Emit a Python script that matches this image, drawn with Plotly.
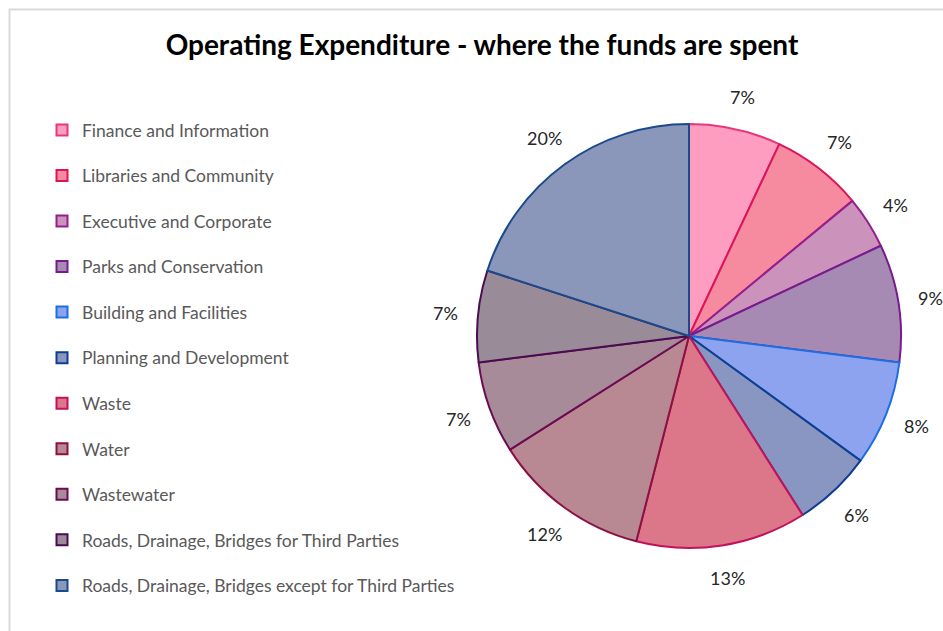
import math
import plotly.graph_objects as go

# Operating expenditure by activity (% of total)
categories = [
    "Finance and Information",
    "Libraries and Community",
    "Executive and Corporate",
    "Parks and Conservation",
    "Building and Facilities",
    "Planning and Development",
    "Waste",
    "Water",
    "Wastewater",
    "Roads, Drainage, Bridges for Third Parties",
    "Roads, Drainage, Bridges except for Third Parties",
]
shares = [7, 7, 4, 9, 8, 6, 13, 12, 7, 7, 20]

fill_colors = [
    "#FE9DC0", "#F68BA0", "#CB92BC", "#A78AB4", "#8EA3F0", "#8A96C2",
    "#DB7789", "#B98993", "#A88B99", "#9A8B99", "#8B97BA",
]
edge_colors = [
    "#E8367C", "#DE1459", "#93208F", "#771C8C", "#1C6FE2", "#103D8E",
    "#C3115B", "#8C1143", "#6B0C52", "#4B0B52", "#1B4A8C",
]

W, H = 943, 631
cx, cy, R = 689, 336, 212          # pie centre and radius in pixels
label_r = 245                       # radius at which percentage labels sit

fig = go.Figure()

fig.add_trace(go.Pie(
    labels=categories,
    values=shares,
    sort=False,
    direction="clockwise",
    rotation=0,
    textinfo="none",
    hoverinfo="label+percent",
    showlegend=False,
    marker=dict(colors=fill_colors, line=dict(color=edge_colors, width=2)),
    domain=dict(x=[(cx - R) / W, (cx + R) / W],
                y=[1 - (cy + R) / H, 1 - (cy - R) / H]),
))

# legend entries, one group each so the rows can be spaced out
for name, fc, ec in zip(categories, fill_colors, edge_colors):
    fig.add_trace(go.Scatter(
        x=[None], y=[None], mode="markers", name=name,
        legendgroup=name,
        marker=dict(symbol="square", size=11, color=fc,
                    line=dict(color=ec, width=2)),
    ))

# percentage labels placed radially around the pie
total = sum(shares)
annotations = []
cum = 0
for v in shares:
    mid = (cum + v / 2) / total * 2 * math.pi
    cum += v
    px = cx + label_r * math.sin(mid)
    py = cy - label_r * math.cos(mid)
    annotations.append(dict(
        x=px / W, y=1 - py / H, xref="paper", yref="paper",
        text=f"{round(v / total * 100)}%", showarrow=False,
        font=dict(family="Lato", size=18, color="#262626"),
        xanchor="center", yanchor="middle",
    ))

fig.update_layout(
    width=W, height=H,
    margin=dict(l=0, r=0, t=0, b=0),
    paper_bgcolor="white",
    plot_bgcolor="white",
    title=dict(
        text="<b>Operating Expenditure - where the funds are spent</b>",
        x=482 / W, y=1 - 45 / H, xanchor="center", yanchor="middle",
        font=dict(family="Lato", size=28, color="#000000"),
    ),
    xaxis=dict(visible=False),
    yaxis=dict(visible=False),
    legend=dict(
        x=42 / W, y=1 - 112 / H, xanchor="left", yanchor="top",
        font=dict(family="Lato", size=17.5, color="#595959"),
        tracegroupgap=19.8, traceorder="grouped",
        bgcolor="rgba(0,0,0,0)",
    ),
    annotations=annotations,
    shapes=[dict(
        type="rect", xref="paper", yref="paper",
        x0=9.5 / W, x1=1.2, y0=-0.2, y1=1 - 9.5 / H,
        line=dict(color="#D9D9D9", width=2), fillcolor="rgba(0,0,0,0)",
    )],
)

fig.write_html("out.html")
